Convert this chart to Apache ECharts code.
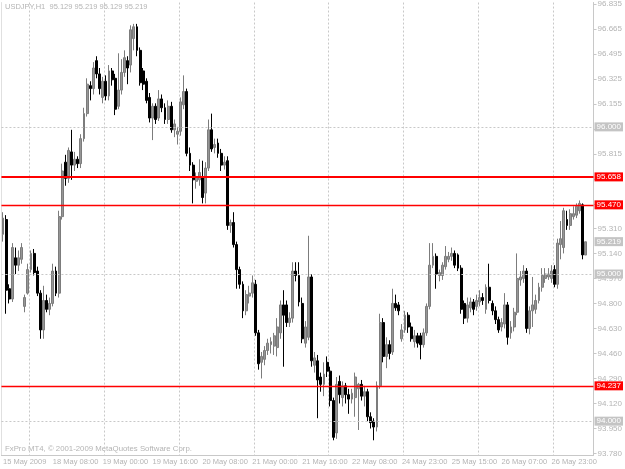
<!DOCTYPE html>
<html><head><meta charset="utf-8">
<script src="https://cdn.jsdelivr.net/npm/echarts@6/dist/echarts.min.js"></script>
<style>html,body{margin:0;padding:0;background:#fff}#c{width:625px;height:469px}</style>
</head><body><div id="c"></div>
<script>
const symbolName = 'USDJPY,H1';
const lastQuote = '95.129 95.219 95.129 95.219';
const footerText = 'FxPro MT4, \u00A9 2001-2009 MetaQuotes Software Corp.';
const xTickLabels = ['15 May 2009','18 May 08:00','19 May 00:00','19 May 16:00','20 May 08:00','21 May 00:00','21 May 16:00','22 May 08:00','24 May 23:00','25 May 15:00','26 May 07:00','26 May 23:00'];
const xTickStep = 16;
const separatorStep = 24;
const separatorOffset = 9;
const yTickLabels = ['96.835','96.665','96.495','96.325','96.155','95.985','95.815','95.645','95.475','95.310','95.140','94.970','94.800','94.630','94.460','94.290','94.120','93.950','93.780'];
const redLevels = [95.658, 95.470, 94.237];
const redWidths = [2, 1.4, 1.4];
const grayLevels = [96.000, 95.000, 94.000];
const bidPrice = 95.219;

const opens = [
95.27,95.37,94.90,94.83,95.11,95.06,95.10,94.78,94.87,95.03,
95.14,95.02,94.87,94.62,94.82,94.76,94.80,95.02,94.87,95.39,
95.76,95.65,95.83,95.74,95.78,95.75,95.92,96.09,96.28,96.26,
96.45,96.36,96.20,96.31,96.21,96.38,96.33,96.14,96.25,96.37,
96.45,96.42,96.60,96.68,96.52,96.38,96.31,96.20,96.06,96.14,
96.06,96.19,96.13,96.05,96.14,95.98,95.95,95.97,96.15,96.24,
95.82,95.74,95.63,95.64,95.66,95.55,95.72,95.98,95.86,95.89,
95.82,95.74,95.77,95.33,95.35,95.20,95.03,94.93,94.75,94.85,
94.87,94.93,94.60,94.40,94.42,94.48,94.52,94.51,94.50,94.60,
94.79,94.79,94.67,94.70,95.02,94.99,94.80,94.53,94.57,94.98,
94.38,94.41,94.30,94.25,94.40,94.34,94.14,93.92,94.27,94.16,
94.24,94.18,94.15,94.16,94.22,94.25,94.17,94.20,94.03,94.00,
93.96,94.24,94.67,94.44,94.52,94.47,94.80,94.79,94.56,94.62,
94.72,94.64,94.54,94.58,94.58,94.52,94.60,94.78,95.06,95.12,
94.99,94.99,95.05,95.10,95.12,95.14,95.13,95.04,94.80,94.70,
94.77,94.81,94.78,94.81,94.84,94.76,94.91,94.80,94.75,94.69,
94.64,94.66,94.79,94.60,94.64,94.74,94.96,94.97,95.02,94.63,
94.75,94.76,94.82,94.91,94.97,94.98,94.97,95.03,94.93,95.20,
95.18,95.37,95.33,95.39,95.40,95.43,95.47,95.129];
const closes = [
95.38,94.89,94.83,95.18,95.06,95.11,95.18,94.84,95.03,95.14,
95.01,94.87,94.62,94.82,94.76,94.80,95.02,94.87,95.39,95.70,
95.65,95.84,95.74,95.78,95.75,95.92,96.09,96.29,96.26,96.40,
96.36,96.26,96.31,96.21,96.38,96.32,96.12,96.25,96.37,96.47,
96.40,96.66,96.68,96.52,96.30,96.29,96.18,96.06,96.14,96.05,
96.19,96.13,96.05,96.14,95.98,96.02,95.97,96.17,96.24,95.82,
95.74,95.64,95.66,95.69,95.52,95.72,95.98,95.85,95.88,95.82,
95.74,95.76,95.33,95.35,95.20,95.03,94.93,94.75,94.86,94.87,
94.94,94.60,94.39,94.44,94.48,94.53,94.54,94.58,94.64,94.79,
94.72,94.67,94.70,95.02,94.99,94.81,94.56,94.64,94.98,94.41,
94.43,94.28,94.25,94.32,94.34,94.14,93.89,94.25,94.18,94.24,
94.18,94.15,94.19,94.30,94.25,94.17,94.20,94.03,93.99,93.96,
94.24,94.67,94.44,94.52,94.46,94.80,94.77,94.75,94.62,94.72,
94.64,94.56,94.58,94.53,94.52,94.60,94.78,95.06,95.12,95.00,
95.01,95.06,95.12,95.12,95.14,95.06,95.04,94.76,94.70,94.79,
94.81,94.76,94.82,94.84,94.82,94.91,94.82,94.75,94.69,94.62,
94.67,94.79,94.57,94.64,94.74,94.97,94.98,95.02,94.63,94.75,
94.79,94.82,94.91,94.99,95.00,95.00,95.02,94.93,95.21,95.24,
95.43,95.33,95.41,95.41,95.46,95.48,95.13,95.219];
const lows = [
95.22,94.73,94.80,94.81,95.00,95.02,95.07,94.74,94.86,95.01,
94.99,94.85,94.56,94.56,94.74,94.72,94.78,94.85,94.84,95.37,
95.60,95.62,95.64,95.70,95.72,95.72,95.90,96.07,96.18,96.22,
96.33,96.22,96.16,96.18,96.18,96.28,96.08,96.12,96.22,96.34,
96.29,96.37,96.52,96.48,96.28,96.25,96.16,96.03,95.91,96.02,
96.04,96.10,96.02,96.02,95.96,95.93,95.88,95.94,96.12,95.80,
95.70,95.48,95.58,95.60,95.48,95.48,95.70,95.83,95.82,95.79,
95.70,95.71,95.30,95.28,95.18,94.90,94.90,94.70,94.72,94.80,
94.84,94.58,94.35,94.29,94.38,94.45,94.46,94.45,94.44,94.56,
94.37,94.64,94.64,94.67,94.95,94.78,94.53,94.50,94.55,94.37,
94.33,94.02,94.20,94.17,94.30,94.10,93.87,93.88,94.12,94.10,
94.12,94.05,94.12,94.03,93.94,94.14,94.10,94.00,93.95,93.87,
93.93,94.22,94.40,94.36,94.42,94.45,94.75,94.72,94.54,94.60,
94.60,94.54,94.50,94.50,94.42,94.50,94.58,94.76,95.04,94.90,
94.95,94.96,95.03,95.08,95.09,95.04,95.02,94.73,94.66,94.67,
94.74,94.72,94.75,94.78,94.79,94.73,94.80,94.72,94.66,94.60,
94.61,94.63,94.52,94.56,94.61,94.72,94.92,94.94,94.60,94.59,
94.64,94.73,94.80,94.88,94.94,94.96,94.94,94.91,94.90,95.10,
95.14,95.30,95.30,95.37,95.38,95.41,95.10,95.129];
const highs = [
95.42,95.40,94.93,95.21,95.18,95.16,95.21,94.86,95.07,95.16,
95.17,95.05,94.89,94.92,94.86,94.84,95.07,95.05,95.43,95.75,
95.81,95.86,95.98,95.83,95.80,95.95,96.13,96.33,96.31,96.44,
96.48,96.40,96.34,96.35,96.42,96.40,96.36,96.50,96.46,96.52,
96.48,96.69,96.70,96.70,96.54,96.40,96.33,96.23,96.16,96.16,
96.25,96.22,96.16,96.18,96.17,96.05,96.00,96.20,96.35,96.26,
95.86,95.76,95.69,95.78,95.77,95.76,96.05,96.09,95.92,95.92,
95.85,95.80,95.80,95.37,95.42,95.22,95.05,94.95,94.89,94.92,
94.99,94.96,94.62,94.47,94.51,94.56,94.57,94.60,94.70,94.82,
94.89,94.82,94.74,95.08,95.08,95.08,94.84,94.68,95.26,95.00,
94.47,94.45,94.33,94.40,94.44,94.37,94.16,94.30,94.31,94.27,
94.26,94.22,94.22,94.33,94.26,94.28,94.24,94.22,94.06,94.02,
94.27,94.73,94.70,94.57,94.55,94.90,94.86,94.81,94.66,94.75,
94.74,94.67,94.62,94.60,94.60,94.63,94.80,95.21,95.21,95.14,
95.03,95.08,95.19,95.15,95.18,95.16,95.14,95.06,94.82,94.84,
94.84,94.83,94.86,94.89,94.87,94.93,95.07,94.82,94.78,94.71,
94.70,94.87,94.81,94.68,94.77,95.14,95.02,95.06,95.04,94.78,
94.98,94.86,94.94,95.04,95.04,95.04,95.06,95.06,95.24,95.36,
95.45,95.43,95.44,95.46,95.48,95.50,95.48,95.219];

const emptyRight = 2;
const FONT = 'Liberation Sans';
const TXT = '#b4b4b4';
const LINE = '#c8c8c8';

const categories = opens.map((_, i) => 'b' + i);
for (let k = 0; k < emptyRight; k++) categories.push('e' + k);
const candles = opens.map((o, i) => [o, closes[i], lows[i], highs[i]]);
const yTickValues = yTickLabels.map(Number);
const emptyData = categories.map(() => null);

function tagLabel(text, bg) {
  return {show: true, position: 'end', distance: 1, fontSize: 8, fontFamily: FONT, padding: [1, 2, 0, 2], lineHeight: 8,
    backgroundColor: bg, color: '#ffffff', opacity: 1, formatter: text};
}
function levelSeries(item, z) {
  return {type: 'line', data: emptyData, silent: true, z: z, showSymbol: false,
    markLine: {symbol: ['none', 'none'], silent: true, animation: false, data: [item]}};
}

const grayData = grayLevels.map(v => ({yAxis: v, lineStyle: {color: LINE, width: 1, type: [2, 2], opacity: 1}, label: tagLabel(v.toFixed(3), '#c4c4c4')}));
const bidItem = {yAxis: bidPrice, lineStyle: {color: 'rgba(255,255,255,0)', width: 0}, label: tagLabel(bidPrice.toFixed(3), '#c4c4c4')};
const redSeries = redLevels.map((v, i) => levelSeries({yAxis: v, lineStyle: {color: '#ff0000', width: redWidths[i], type: 'solid', opacity: 1}, label: tagLabel(v.toFixed(3), '#ff0000')}, 5 + i));

const isTick = i => i % xTickStep === 0 && i < opens.length;

const chart = echarts.init(document.getElementById('c'), null, {renderer: 'canvas'});
chart.setOption({
  animation: false,
  backgroundColor: '#ffffff',
  grid: {left: 1, right: 31, top: 2, bottom: 14},
  xAxis: {
    type: 'category', data: categories, boundaryGap: true,
    axisLine: {lineStyle: {color: LINE}},
    axisTick: {alignWithLabel: true, interval: i => isTick(i), length: 3, lineStyle: {color: LINE}},
    axisLabel: {interval: i => isTick(i), formatter: (v, i) => xTickLabels[i / xTickStep] || '', align: 'left', margin: 3, fontSize: 7.5, fontFamily: FONT, color: TXT},
    splitLine: {show: true, interval: i => i % separatorStep === separatorOffset, lineStyle: {color: LINE, type: [2, 2]}}
  },
  yAxis: [{
    type: 'value', position: 'right', min: 93.770, max: 96.845,
    axisLine: {show: true, lineStyle: {color: LINE}},
    axisTick: {show: true, customValues: yTickValues, length: 3, lineStyle: {color: LINE}},
    axisLabel: {customValues: yTickValues, formatter: v => v.toFixed(3), margin: 4, fontSize: 8, fontFamily: FONT, color: TXT},
    splitLine: {show: false}
  }, {
    type: 'value', position: 'left', min: 93.770, max: 96.845,
    axisLine: {show: true, lineStyle: {color: '#e0e0e0'}},
    axisTick: {show: false}, axisLabel: {show: false}, splitLine: {show: false}
  }],
  series: [{
    type: 'line', data: emptyData, silent: true, z: 1, showSymbol: false,
    markLine: {symbol: ['none', 'none'], silent: true, animation: false, data: grayData}
  }, {
    type: 'candlestick', data: candles, barWidth: 2.4, z: 2,
    itemStyle: {color: '#969696', color0: '#000000', borderColor: '#7c7c7c', borderColor0: '#000000', borderWidth: 1}
  }, levelSeries(bidItem, 4)].concat(redSeries),
  graphic: [
    {type: 'text', left: 5, top: 3, style: {text: symbolName + '  ' + lastQuote, fill: TXT, font: '7.5px "Liberation Sans"'}},
    {type: 'text', left: 5, top: 445, style: {text: footerText, fill: TXT, font: '7.8px "Liberation Sans"'}}
  ]
});
</script></body></html>
